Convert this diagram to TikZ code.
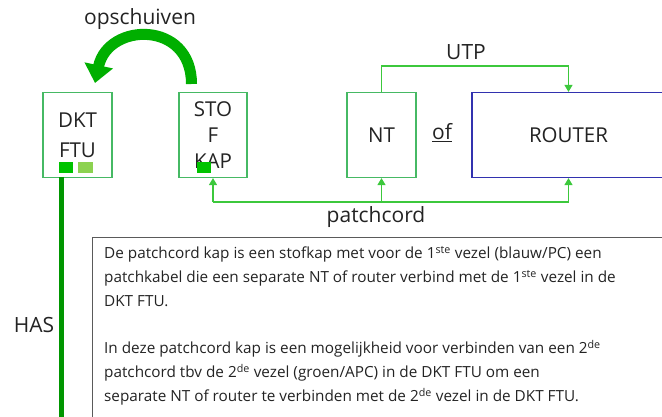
\documentclass[tikz,border=0pt]{standalone}
\usepackage{fontspec}
\setmainfont{Open Sans}
\usetikzlibrary{arrows.meta, positioning}

\definecolor{boxgreen}{RGB}{70,185,100}
\definecolor{linegreen}{RGB}{60,200,60}
\definecolor{hasgreen}{RGB}{0,150,0}
\definecolor{arcgreen}{RGB}{0,175,0}
\definecolor{fibreA}{RGB}{0,195,0}
\definecolor{fibreB}{RGB}{140,210,80}
\definecolor{routerblue}{RGB}{50,50,175}
\definecolor{notegray}{RGB}{90,90,90}
\definecolor{txt}{RGB}{35,35,35}

\tikzset{
  box/.style={draw=boxgreen, line width=1.2pt, minimum width=69pt, minimum height=85pt,
    inner sep=0pt, align=center, text=txt, font=\fontsize{20.5}{30}\selectfont},
  conn/.style={draw=linegreen, line width=1.3pt, -{Triangle[length=7pt,width=8pt]}},
  lbl/.style={text=txt, font=\fontsize{21}{24}\selectfont, inner sep=0pt},
  fibre/.style={minimum width=14pt, minimum height=11pt, inner sep=0pt, draw=none}
}

\begin{document}
\begin{tikzpicture}[x=1pt, y=-1pt]
  % Page size
  \useasboundingbox (0,0) rectangle (662,417);
  \clip (0,0) rectangle (662,417);

  % Boxes
  \node[box] (dkt) at (77.5,135) {DKT\\FTU};
  \node[box, minimum width=68pt, font=\fontsize{20.5}{26}\selectfont] (kap) at (213,135) {STO\\F\\KAP};
  \node[box] (nt) at (381.5,135) {NT};
  \node[box, draw=routerblue, minimum width=193pt] (router) at (568.5,135) {ROUTER};
  \node[lbl] (of) at (442,133) {\underline{of}};

  % Fibre connectors (green squares)
  \node[fibre, fill=fibreA] (fibre1) at (66,167.5) {};
  \node[fibre, fill=fibreB, minimum width=15pt] (fibre2) at (85.5,167.5) {};
  \node[fibre, fill=fibreA] (fibre3) at (204,167.5) {};

  % HAS cable
  \coordinate (hastop) at (61,177);
  \coordinate (hasend) at (61,425);
  \draw[hasgreen, line width=5pt] (hastop) -- (hasend);
  \node[lbl] (has) at (34,325) {HAS};

  % Moving the cap over
  \draw[arcgreen, line width=11pt, -{Triangle[length=18pt,width=28pt]}]
    (191.5,84) coordinate (arcstart)
    .. controls (191.5,20) and (108,22) .. (95,83) coordinate (arcend);
  \node[lbl] (move) at (140,19) {opschuiven};

  % UTP
  \coordinate (utp) at (381.5,66);
  \draw[conn] (nt.north) -- (utp) -| (router.north);
  \node[lbl] (utplbl) at (466,52) {UTP};

  % Patchcord
  \coordinate (pc) at (213,202);
  \draw[conn] (pc) -- (kap.south);
  \draw[conn] (pc) -| (router.south);
  \draw[conn] (pc -| nt.south) -- (nt.south);
  \node[lbl] (pclbl) at (376,217) {patchcord};

  % Explanation
  \node[draw=notegray, line width=1pt, anchor=north west, minimum width=600pt,
    minimum height=200pt, inner sep=0pt] (note) at (92,237) {};
  \node[anchor=north west, text=txt, inner sep=0pt, align=left,
    font=\fontsize{15.3}{24}\selectfont] (notetext) at ([xshift=12pt, yshift=-9pt]note.north west)
    {De patchcord kap is een stofkap met voor de 1\textsuperscript{ste} vezel (blauw/PC) een\\
     patchkabel die een separate NT of router verbind met de 1\textsuperscript{ste} vezel in de\\
     DKT FTU.\\[23pt]
     In deze patchcord kap is een mogelijkheid voor verbinden van een 2\textsuperscript{de}\\
     patchcord tbv de 2\textsuperscript{de} vezel (groen/APC) in de DKT FTU om een\\
     separate NT of router te verbinden met de 2\textsuperscript{de} vezel in de DKT FTU.};
\end{tikzpicture}
\end{document}
